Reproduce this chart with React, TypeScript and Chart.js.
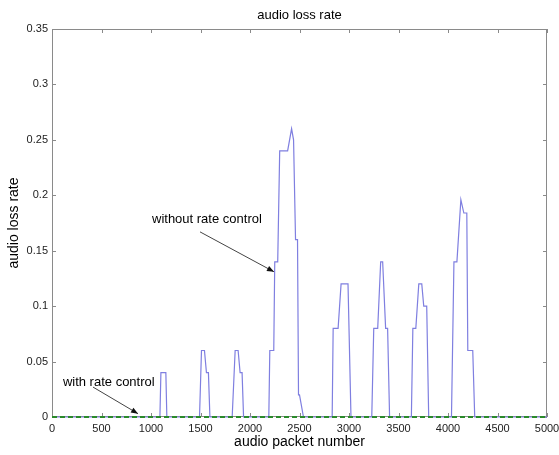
import React, { useEffect, useRef } from "react";
import { Chart, registerables } from "chart.js";

Chart.register(...registerables);

const chartTitle = "audio loss rate";
const xAxisTitle = "audio packet number";
const yAxisTitle = "audio loss rate";

const withoutLabel = "without rate control";
const withLabel = "with rate control";

const withoutX = [0, 1090, 1100, 1150, 1160, 1490, 1510, 1540, 1560, 1580, 1595, 1820, 1850, 1880, 1900, 1920, 1935, 2190, 2200, 2240, 2250, 2280, 2300, 2380, 2420, 2440, 2460, 2480, 2490, 2500, 2540, 2830, 2840, 2890, 2920, 2990, 3020, 3230, 3250, 3290, 3320, 3340, 3370, 3390, 3410, 3630, 3645, 3675, 3705, 3735, 3755, 3785, 3805, 4035, 4060, 4090, 4130, 4160, 4190, 4200, 4250, 4270, 5000];
const withoutY = [0, 0, 0.04, 0.04, 0, 0, 0.06, 0.06, 0.04, 0.04, 0, 0, 0.06, 0.06, 0.04, 0.04, 0, 0, 0.06, 0.06, 0.14, 0.14, 0.24, 0.24, 0.26, 0.25, 0.16, 0.16, 0.02, 0.02, 0, 0, 0.08, 0.08, 0.12, 0.12, 0, 0, 0.08, 0.08, 0.14, 0.14, 0.08, 0.08, 0, 0, 0.08, 0.08, 0.12, 0.12, 0.10, 0.10, 0, 0, 0.14, 0.14, 0.196, 0.184, 0.184, 0.06, 0.06, 0, 0];

const withX = [0, 5000];
const withY = [0, 0];

const xTicks = [0, 500, 1000, 1500, 2000, 2500, 3000, 3500, 4000, 4500, 5000];
const yTicks = [0, 0.05, 0.1, 0.15, 0.2, 0.25, 0.3, 0.35];

// annotation anchors in data coordinates
const withoutTextPos = { x: 1010, y: 0.178 };
const withoutArrow = { x1: 1495, y1: 0.167, x2: 2242, y2: 0.131 };
const withTextPos = { x: 110, y: 0.031 };
const withArrow = { x1: 414, y1: 0.027, x2: 869, y2: 0.003 };

const FONT = "Arial, 'Liberation Sans', sans-serif";

function drawArrow(ctx: CanvasRenderingContext2D, x1: number, y1: number, x2: number, y2: number) {
  ctx.save();
  ctx.strokeStyle = "#444";
  ctx.fillStyle = "#111";
  ctx.lineWidth = 1;
  ctx.beginPath();
  ctx.moveTo(x1, y1);
  ctx.lineTo(x2, y2);
  ctx.stroke();
  const a = Math.atan2(y2 - y1, x2 - x1);
  const L = 7, W = 2.8;
  ctx.beginPath();
  ctx.moveTo(x2, y2);
  ctx.lineTo(x2 - L * Math.cos(a) + W * Math.sin(a), y2 - L * Math.sin(a) - W * Math.cos(a));
  ctx.lineTo(x2 - L * Math.cos(a) - W * Math.sin(a), y2 - L * Math.sin(a) + W * Math.cos(a));
  ctx.closePath();
  ctx.fill();
  ctx.restore();
}

const decorPlugin = {
  id: "decor",
  beforeDatasetsDraw(chart: any) {
    const { ctx, chartArea: ca, scales } = chart;
    const xs = scales.x, ys = scales.y;
    ctx.save();
    ctx.strokeStyle = "#8a8a8a";
    ctx.lineWidth = 1;
    ctx.strokeRect(ca.left + 0.5, ca.top + 0.5, ca.right - ca.left - 1, ca.bottom - ca.top - 1);
    const tl = 4;
    ctx.beginPath();
    xTicks.forEach((v) => {
      const px = Math.round(xs.getPixelForValue(v)) + 0.5;
      ctx.moveTo(px, ca.bottom);
      ctx.lineTo(px, ca.bottom - tl);
      ctx.moveTo(px, ca.top);
      ctx.lineTo(px, ca.top + tl);
    });
    yTicks.forEach((v) => {
      const py = Math.round(ys.getPixelForValue(v)) + 0.5;
      ctx.moveTo(ca.left, py);
      ctx.lineTo(ca.left + tl, py);
      ctx.moveTo(ca.right, py);
      ctx.lineTo(ca.right - tl, py);
    });
    ctx.stroke();
    ctx.restore();
  },
  afterDatasetsDraw(chart: any) {
    const { ctx, chartArea: ca, scales } = chart;
    const xs = scales.x, ys = scales.y;
    ctx.save();
    ctx.fillStyle = "#000";
    ctx.textAlign = "center";
    ctx.textBaseline = "middle";
    ctx.font = `13px ${FONT}`;
    ctx.fillText(chartTitle, (ca.left + ca.right) / 2, 15);
    ctx.font = `14px ${FONT}`;
    ctx.fillText(xAxisTitle, (ca.left + ca.right) / 2, 442);
    ctx.save();
    ctx.translate(14, (ca.top + ca.bottom) / 2);
    ctx.rotate(-Math.PI / 2);
    ctx.fillText(yAxisTitle, 0, 0);
    ctx.restore();

    ctx.font = `13px ${FONT}`;
    ctx.textAlign = "left";
    ctx.fillText(withoutLabel, xs.getPixelForValue(withoutTextPos.x), ys.getPixelForValue(withoutTextPos.y));
    ctx.fillText(withLabel, xs.getPixelForValue(withTextPos.x), ys.getPixelForValue(withTextPos.y));
    drawArrow(ctx, xs.getPixelForValue(withoutArrow.x1), ys.getPixelForValue(withoutArrow.y1), xs.getPixelForValue(withoutArrow.x2), ys.getPixelForValue(withoutArrow.y2));
    drawArrow(ctx, xs.getPixelForValue(withArrow.x1), ys.getPixelForValue(withArrow.y1), xs.getPixelForValue(withArrow.x2), ys.getPixelForValue(withArrow.y2));
    ctx.restore();
  },
};

export default function App() {
  const ref = useRef<HTMLCanvasElement | null>(null);
  useEffect(() => {
    document.body.style.margin = "0";
    const canvas = ref.current!;
    const chart = new Chart(canvas, {
      type: "line",
      data: {
        datasets: [
          {
            label: withoutLabel,
            data: withoutX.map((x, i) => ({ x, y: withoutY[i] })),
            borderColor: "#7f7fe0",
            borderWidth: 1.2,
            pointRadius: 0,
            fill: false,
            tension: 0,
            order: 2,
            clip: false as any,
          },
          {
            label: withLabel,
            data: withX.map((x, i) => ({ x, y: withY[i] })),
            borderColor: "#2a8a2a",
            borderWidth: 2,
            borderDash: [5, 3],
            pointRadius: 0,
            fill: false,
            order: 1,
            clip: false as any,
          },
        ],
      },
      options: {
        animation: false,
        responsive: false,
        maintainAspectRatio: false,
        layout: { padding: { left: 0, right: 12, top: 29, bottom: 0 } },
        plugins: { legend: { display: false }, title: { display: false }, tooltip: { enabled: false } },
        scales: {
          x: {
            type: "linear",
            min: 0,
            max: 5000,
            afterBuildTicks: (s: any) => { s.ticks = xTicks.map((v) => ({ value: v })); },
            afterFit: (s: any) => { s.height = 38; s.paddingLeft = 0; s.paddingRight = 0; },
            grid: { display: false, drawTicks: false },
            border: { display: false },
            ticks: {
              padding: 5,
              color: "#222",
              font: { size: 11, family: FONT },
              maxRotation: 0,
              autoSkip: false,
              callback: (v: any) => String(v),
            },
          },
          y: {
            type: "linear",
            min: 0,
            max: 0.35,
            afterBuildTicks: (s: any) => { s.ticks = yTicks.map((v) => ({ value: v })); },
            afterFit: (s: any) => { s.width = 52; s.paddingTop = 0; s.paddingBottom = 0; },
            grid: { display: false, drawTicks: false },
            border: { display: false },
            ticks: {
              padding: 4,
              color: "#222",
              font: { size: 11, family: FONT },
              callback: (v: any) => String(Math.round(Number(v) * 100) / 100),
            },
          },
        },
      },
      plugins: [decorPlugin],
    });
    return () => chart.destroy();
  }, []);
  return (
    <div style={{ width: 559, height: 455, background: "#fff" }}>
      <canvas ref={ref} width={559} height={455} style={{ display: "block" }} />
    </div>
  );
}
